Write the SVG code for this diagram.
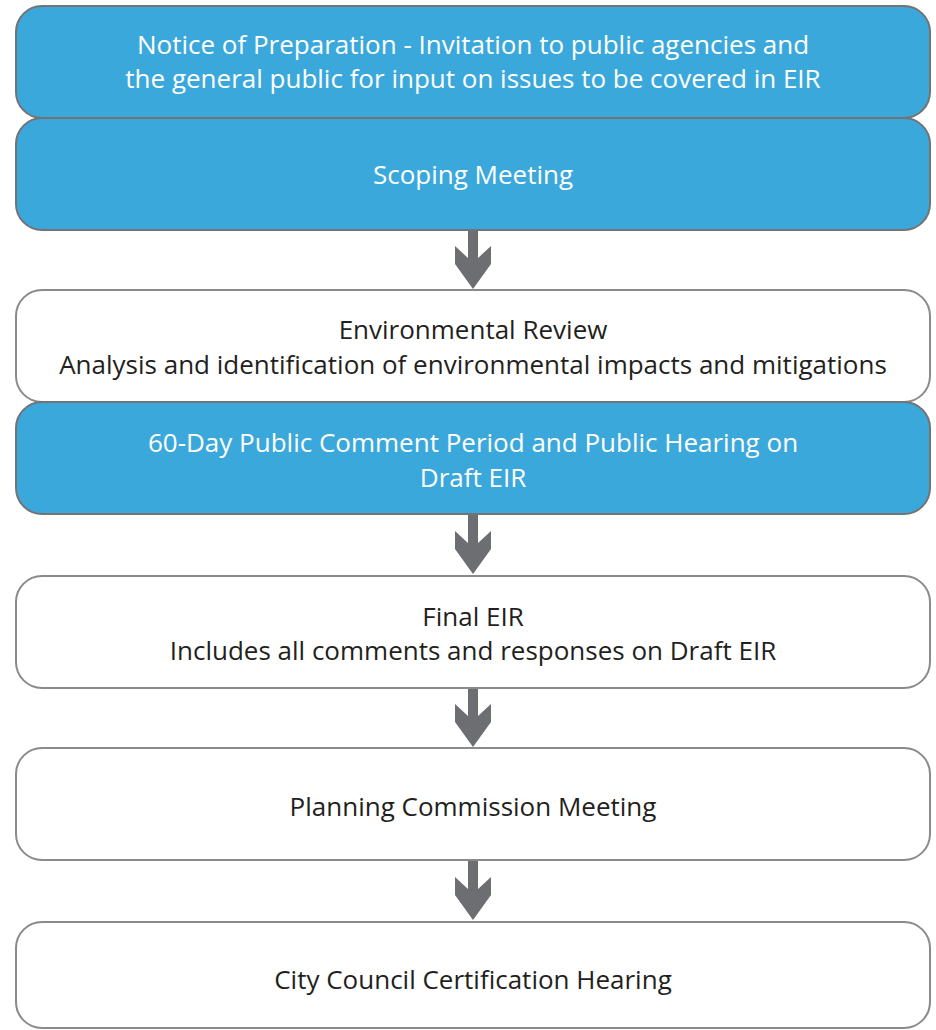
<svg xmlns="http://www.w3.org/2000/svg" width="936" height="1030" viewBox="0 0 936 1030">
<style>
.blue{fill:#3ba8dc;stroke:#737373;stroke-width:2}
.white{fill:#ffffff;stroke:#8a8a8a;stroke-width:2}
text{font-family:"Open Sans","Liberation Sans",sans-serif;font-size:26px;text-anchor:middle}
.tw{fill:#ffffff}
.tk{fill:#231f20}
.arrow{fill:#6d6e71}
</style>
<rect width="936" height="1030" fill="#ffffff"/>
<g id="connectors">
<path class="arrow" d="M468 230 H478 V258 L491 246 V264 L473 289 L455 264 V246 L468 258 Z"/>
<path class="arrow" d="M468 514 H478 V543 L491 531 V549 L473 574 L455 549 V531 L468 543 Z"/>
<path class="arrow" d="M468 688 H478 V716 L491 704 V722 L473 747 L455 722 V704 L468 716 Z"/>
<path class="arrow" d="M468 860 H478 V889 L491 877 V895 L473 920 L455 895 V877 L468 889 Z"/>
</g>
<g id="node1">
<rect class="blue" x="16" y="6" width="914" height="112" rx="26"/>
<text class="tw" x="473" y="54">Notice of Preparation - Invitation to public agencies and</text>
<text class="tw" x="473" y="88">the general public for input on issues to be covered in EIR</text>
</g>
<g id="node2">
<rect class="blue" x="16" y="118" width="914" height="112" rx="26"/>
<text class="tw" x="473" y="184">Scoping Meeting</text>
</g>
<g id="node3">
<rect class="white" x="16" y="290" width="914" height="112" rx="26"/>
<text class="tk" x="473" y="339">Environmental Review</text>
<text class="tk" x="473" y="374">Analysis and identification of environmental impacts and mitigations</text>
</g>
<g id="node4">
<rect class="blue" x="16" y="402" width="914" height="112" rx="26"/>
<text class="tw" x="473" y="452">60-Day Public Comment Period and Public Hearing on</text>
<text class="tw" x="473" y="487">Draft EIR</text>
</g>
<g id="node5">
<rect class="white" x="16" y="576" width="914" height="112" rx="26"/>
<text class="tk" x="473" y="626">Final EIR</text>
<text class="tk" x="473" y="660">Includes all comments and responses on Draft EIR</text>
</g>
<g id="node6">
<rect class="white" x="16" y="748" width="914" height="112" rx="26"/>
<text class="tk" x="473" y="816">Planning Commission Meeting</text>
</g>
<g id="node7">
<rect class="white" x="16" y="922" width="914" height="106" rx="26"/>
<text class="tk" x="473" y="989">City Council Certification Hearing</text>
</g>
</svg>
